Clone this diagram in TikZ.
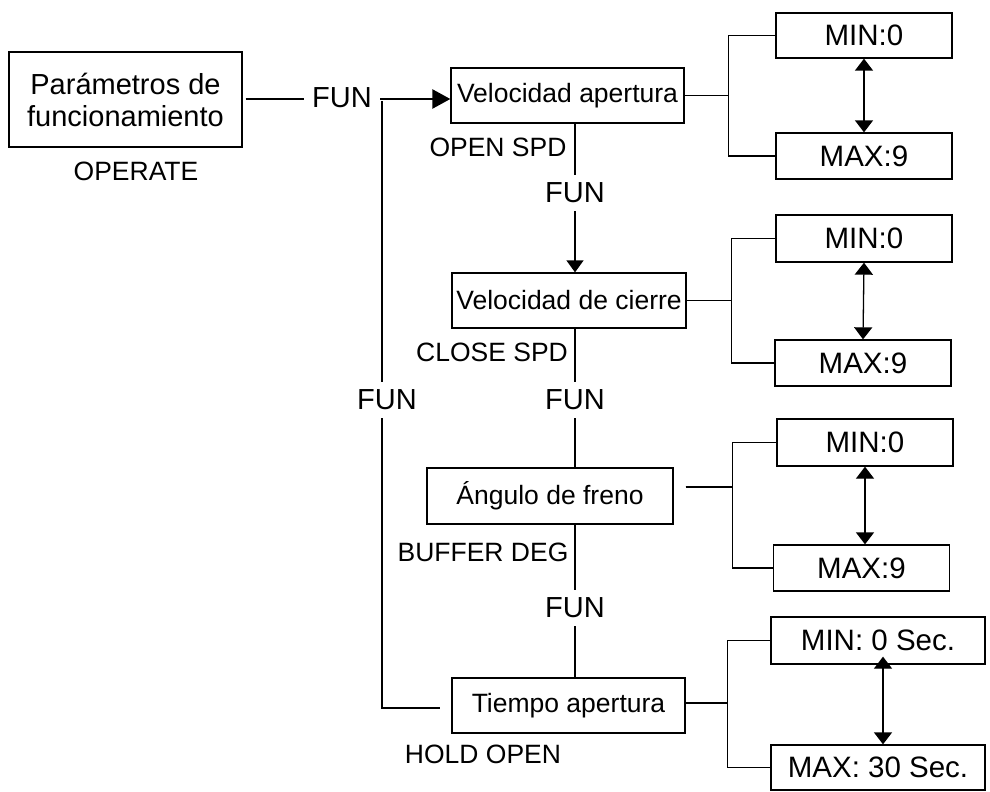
\documentclass[tikz,border=0pt]{standalone}
\usepackage{fontspec}
\setmainfont{Liberation Sans}
\usetikzlibrary{arrows.meta}

\tikzset{
  box/.style={draw, line width=1.3pt, inner sep=0pt, align=center, font=\fontsize{26.5}{31}\selectfont},
  limbox/.style={draw, line width=1.3pt, inner sep=0pt, minimum width=176, font=\fontsize{29.5}{32}\selectfont},
  lbl/.style={inner sep=0pt, font=\fontsize{26.5}{30}\selectfont},
  funlbl/.style={inner sep=8pt, font=\fontsize{29}{32}\selectfont},
  conn/.style={line width=1.3pt},
  arr/.style={line width=1.3pt, -{Triangle[length=12pt,width=17pt]}},
  dblarr/.style={line width=1.3pt, {Triangle[length=12pt,width=18pt]}-{Triangle[length=12pt,width=18pt]}}
}

\begin{document}
\begin{tikzpicture}[x=1pt,y=1pt,yscale=-1,xscale=1]
    \useasboundingbox (0,0) rectangle (990,792);

    % Main boxes
    \node [box, minimum width=233, minimum height=95, font=\fontsize{29}{32}\selectfont] (oper) at (125.5,99.5) {Parámetros de\\funcionamiento};
    \node [box, minimum width=233, minimum height=55] (vap) at (567.5,95.5) {Velocidad apertura};
    \node [box, minimum width=234, minimum height=55] (vci) at (569,300.5) {Velocidad de cierre};
    \node [box, minimum width=246, minimum height=56] (ang) at (550,496) {Ángulo de freno};
    \node [box, minimum width=233, minimum height=55] (tie) at (568.5,705.5) {Tiempo apertura};

    % Text Node
    \node [lbl] (operlbl) at (136,171) {OPERATE};
    \node [lbl] (openlbl) at (498,147) {OPEN SPD};
    \node [lbl] (closelbl) at (492,352) {CLOSE SPD};
    \node [lbl] (bufferlbl) at (483,552) {BUFFER DEG};
    \node [lbl] (holdlbl) at (483,754) {HOLD OPEN};

    % FUN labels
    \node [funlbl] (fun0) at (342,98) {FUN};
    \node [funlbl] (funL) at (387,400) {FUN};
    \node [funlbl] (fun2) at (575,193) {FUN};
    \node [funlbl] (fun3) at (575,400) {FUN};
    \node [funlbl] (fun4) at (575,608) {FUN};

    % MIN / MAX boxes
    \node [limbox, minimum height=45] (min1) at (864,35.5) {MIN:0};
    \node [limbox, minimum height=46] (max1) at (864,156) {MAX:9};
    \node [limbox, minimum height=47] (min2) at (864,238.5) {MIN:0};
    \node [limbox, minimum height=46] (max2) at (863,363) {MAX:9};
    \node [limbox, minimum height=47] (min3) at (865,442.5) {MIN:0};
    \node [limbox, minimum height=46] (max3) at (861.5,568) {MAX:9};
    \node [limbox, minimum width=214, minimum height=47] (min4) at (878,640.5) {MIN: 0 Sec.};
    \node [limbox, minimum width=214, minimum height=45] (max4) at (878,767.5) {MAX: 30 Sec.};

    % top line into the first step
    \coordinate (tip) at ([yshift=3.5pt]vap.west);
    \coordinate (split) at (382,101);
    \draw [line width=2.5pt] ([xshift=3pt]oper.east |- tip) -- (fun0.west |- tip);
    \draw [line width=2.5pt, -{Triangle[length=18pt,width=19pt]}] (fun0.east |- tip) -- (tip);

    % return line on the left
    \draw [conn] (split) -- (split |- funL.north);
    \draw [conn] (split |- funL.south) |- ([xshift=-11pt,yshift=2.5pt]tie.west);

    % step chain
    \draw [conn] (fun2.north |- vap.south) -- (fun2.north);
    \draw [arr] (fun2.south) -- (fun2.south |- vci.north);
    \draw [conn] (fun3.north |- vci.south) -- (fun3.north);
    \draw [conn] (fun3.south) -- (fun3.south |- ang.north);
    \draw [conn] (fun4.north |- ang.south) -- (fun4.north);
    \draw [conn] (fun4.south) -- (fun4.south |- tie.north);

    % brackets to the limits
    \draw [conn] (vap.east) -- ++(44,0) |- (min1.west);
    \draw [conn] (vap.east) -- ++(44,0) |- (max1.west);
    \draw [conn] (vci.east) -- ++(45,0) |- (min2.west);
    \draw [conn] (vci.east) -- ++(45,0) |- (max2.west);
    \draw [conn] ([xshift=12pt,yshift=-9pt]ang.east) -- ++(47,0) |- (min3.west);
    \draw [conn] ([xshift=12pt,yshift=-9pt]ang.east) -- ++(47,0) |- (max3.west);
    \draw [conn] ([yshift=-2.5pt]tie.east) -- ++(42,0) |- (min4.west);
    \draw [conn] ([yshift=-2.5pt]tie.east) -- ++(42,0) |- (max4.west);

    % MIN <-> MAX
    \draw [dblarr] (min1.south) -- (max1.north);
    \draw [dblarr] (min2.south) -- (max2.north);
    \draw [dblarr] (min3.south) -- (min3.south |- max3.north);
    \draw [dblarr] ([xshift=5pt,yshift=-8pt]min4.south) -- ([xshift=5pt]max4.north);
\end{tikzpicture}
\end{document}
